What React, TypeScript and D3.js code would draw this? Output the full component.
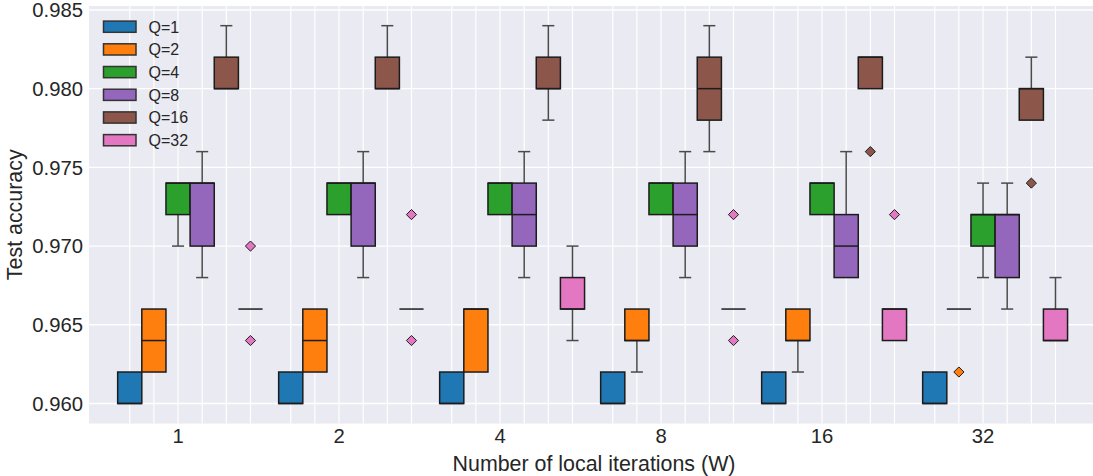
import React, { useEffect, useRef } from "react";
import * as d3 from "d3";

const W_LABELS = ["1", "2", "4", "8", "16", "32"];
const Q_LABELS = ["Q=1", "Q=2", "Q=4", "Q=8", "Q=16", "Q=32"];
const COLORS = ["#1f77b4", "#ff7f0e", "#2ca02c", "#9467bd", "#8c564b", "#e377c2"];
const Y_TICKS = [0.96, 0.965, 0.97, 0.975, 0.98, 0.985];

// rows: Q, columns: W
const WHISKER_LO = [
    [0.960, 0.960, 0.960, 0.960, 0.960, 0.960],
    [0.962, 0.962, 0.962, 0.962, 0.962, 0.966],
    [0.970, 0.972, 0.972, 0.972, 0.972, 0.968],
    [0.968, 0.968, 0.968, 0.968, 0.968, 0.966],
    [0.980, 0.980, 0.978, 0.976, 0.980, 0.978],
    [0.966, 0.966, 0.964, 0.966, 0.964, 0.964],
];
const Q1 = [
    [0.960, 0.960, 0.960, 0.960, 0.960, 0.960],
    [0.962, 0.962, 0.962, 0.964, 0.964, 0.966],
    [0.972, 0.972, 0.972, 0.972, 0.972, 0.970],
    [0.970, 0.970, 0.970, 0.970, 0.968, 0.968],
    [0.980, 0.980, 0.980, 0.978, 0.980, 0.978],
    [0.966, 0.966, 0.966, 0.966, 0.964, 0.964],
];
const MEDIAN = [
    [0.960, 0.960, 0.960, 0.960, 0.960, 0.960],
    [0.964, 0.964, 0.966, 0.964, 0.964, 0.966],
    [0.974, 0.974, 0.974, 0.974, 0.974, 0.972],
    [0.974, 0.974, 0.972, 0.972, 0.970, 0.972],
    [0.980, 0.980, 0.980, 0.980, 0.982, 0.980],
    [0.966, 0.966, 0.966, 0.966, 0.966, 0.964],
];
const Q3 = [
    [0.962, 0.962, 0.962, 0.962, 0.962, 0.962],
    [0.966, 0.966, 0.966, 0.966, 0.966, 0.966],
    [0.974, 0.974, 0.974, 0.974, 0.974, 0.972],
    [0.974, 0.974, 0.974, 0.974, 0.972, 0.972],
    [0.982, 0.982, 0.982, 0.982, 0.982, 0.980],
    [0.966, 0.966, 0.968, 0.966, 0.966, 0.966],
];
const WHISKER_HI = [
    [0.962, 0.962, 0.962, 0.962, 0.962, 0.962],
    [0.966, 0.966, 0.966, 0.966, 0.966, 0.966],
    [0.974, 0.974, 0.974, 0.974, 0.974, 0.974],
    [0.976, 0.976, 0.976, 0.976, 0.976, 0.974],
    [0.984, 0.984, 0.984, 0.984, 0.982, 0.982],
    [0.966, 0.966, 0.970, 0.966, 0.966, 0.968],
];
// [Q index, W index, value]
const OUTLIERS: [number, number, number][] = [
    [5, 0, 0.970], [5, 0, 0.964],
    [5, 1, 0.972], [5, 1, 0.964],
    [5, 3, 0.972], [5, 3, 0.964],
    [4, 4, 0.976], [5, 4, 0.972],
    [1, 5, 0.962], [4, 5, 0.974],
];

const WIDTH = 1093;
const HEIGHT = 476;
const BOX_W = 0.15; // in group units
const FONT = "'Liberation Sans', Arial, sans-serif";
const TEXT = "#262626";

export default function App() {
    const ref = useRef<SVGSVGElement>(null);

    useEffect(() => {
        const svg = d3.select(ref.current);
        svg.selectAll("*").remove();

        const plot = { left: 89, right: 1093, top: 6, bottom: 423.5 };
        const x = d3.scaleLinear().domain([-0.553, 5.683]).range([plot.left, plot.right]);
        const y = d3.scaleLinear().domain([0.95873, 0.98525]).range([plot.bottom, plot.top]);
        const pos = (q: number, w: number) => w + (q - 2) * BOX_W;
        const bw = x(BOX_W) - x(0);

        svg.append("rect").attr("width", WIDTH).attr("height", HEIGHT).attr("fill", "white");
        svg.append("rect")
            .attr("x", plot.left).attr("y", plot.top)
            .attr("width", plot.right - plot.left).attr("height", plot.bottom - plot.top)
            .attr("fill", "#eaeaf2");

        // grid
        const centers: number[] = [];
        W_LABELS.forEach((_, w) => Q_LABELS.forEach((_, q) => centers.push(pos(q, w))));
        svg.append("g").selectAll("line").data(centers).enter().append("line")
            .attr("x1", d => x(d)).attr("x2", d => x(d))
            .attr("y1", plot.top).attr("y2", plot.bottom)
            .attr("stroke", "white").attr("stroke-width", 1.2);
        svg.append("g").selectAll("line").data(Y_TICKS).enter().append("line")
            .attr("x1", plot.left).attr("x2", plot.right)
            .attr("y1", d => y(d)).attr("y2", d => y(d))
            .attr("stroke", "white").attr("stroke-width", 1.4);

        // boxes
        const boxes = svg.append("g");
        Q_LABELS.forEach((_, q) => {
            W_LABELS.forEach((_, w) => {
                const cx = x(pos(q, w));
                const g = boxes.append("g");
                const lo = WHISKER_LO[q][w], hi = WHISKER_HI[q][w];
                const b1 = Q1[q][w], b3 = Q3[q][w], med = MEDIAN[q][w];
                const wh = [[lo, b1], [b3, hi]].filter(([a, b]) => a !== b);
                wh.forEach(([a, b]) => {
                    g.append("line")
                        .attr("x1", cx).attr("x2", cx).attr("y1", y(a)).attr("y2", y(b))
                        .attr("stroke", "#4a4a4a").attr("stroke-width", 1.5);
                });
                if (lo !== b1) {
                    g.append("line").attr("x1", cx - bw / 4).attr("x2", cx + bw / 4)
                        .attr("y1", y(lo)).attr("y2", y(lo))
                        .attr("stroke", "#4a4a4a").attr("stroke-width", 1.5);
                }
                if (hi !== b3) {
                    g.append("line").attr("x1", cx - bw / 4).attr("x2", cx + bw / 4)
                        .attr("y1", y(hi)).attr("y2", y(hi))
                        .attr("stroke", "#4a4a4a").attr("stroke-width", 1.5);
                }
                g.append("rect")
                    .attr("x", cx - bw / 2).attr("y", y(b3))
                    .attr("width", bw).attr("height", y(b1) - y(b3))
                    .attr("fill", COLORS[q]).attr("stroke", "#1c1c1c").attr("stroke-width", 1.5);
                g.append("line").attr("x1", cx - bw / 2).attr("x2", cx + bw / 2)
                    .attr("y1", y(med)).attr("y2", y(med))
                    .attr("stroke", "#1c1c1c").attr("stroke-width", 1.5);
            });
        });

        // outliers
        svg.append("g").selectAll("path").data(OUTLIERS).enter().append("path")
            .attr("d", d3.symbol(d3.symbolDiamond2, 66) as any)
            .attr("transform", d => `translate(${x(pos(d[0], d[1]))},${y(d[2])})`)
            .attr("fill", d => COLORS[d[0]])
            .attr("stroke", "#1c1c1c").attr("stroke-width", 1);

        // y axis labels
        svg.append("g").selectAll("text").data(Y_TICKS).enter().append("text")
            .attr("x", 83).attr("y", d => y(d) + 7.2)
            .attr("text-anchor", "end")
            .attr("font-family", FONT).attr("font-size", "20.3px").attr("fill", TEXT)
            .text(d => d3.format(".3f")(d));
        // x axis labels
        svg.append("g").selectAll("text").data(W_LABELS).enter().append("text")
            .attr("x", (d, i) => x(i)).attr("y", 443)
            .attr("text-anchor", "middle")
            .attr("font-family", FONT).attr("font-size", "20.3px").attr("fill", TEXT)
            .text(d => d);

        svg.append("text")
            .attr("x", (plot.left + plot.right) / 2 + 3).attr("y", 471)
            .attr("text-anchor", "middle")
            .attr("font-family", FONT).attr("font-size", "21.4px").attr("fill", TEXT)
            .text("Number of local iterations (W)");
        svg.append("text")
            .attr("transform", `translate(22,${(plot.top + plot.bottom) / 2}) rotate(-90)`)
            .attr("text-anchor", "middle")
            .attr("font-family", FONT).attr("font-size", "21.4px").attr("fill", TEXT)
            .text("Test accuracy");

        // legend
        const legend = svg.append("g");
        Q_LABELS.forEach((label, i) => {
            const cy = 26.7 + i * 22.7;
            legend.append("rect")
                .attr("x", 103.5).attr("y", cy - 5.6).attr("width", 32.5).attr("height", 11.2)
                .attr("fill", COLORS[i]).attr("stroke", "#333").attr("stroke-width", 1.5);
            legend.append("text")
                .attr("x", 148.5).attr("y", cy + 5.8)
                .attr("font-family", FONT).attr("font-size", "16px").attr("fill", TEXT)
                .text(label);
        });
    }, []);

    return <svg ref={ref} width={WIDTH} height={HEIGHT}
        style={{ position: "absolute", left: 0, top: 0, display: "block" }} />;
}
